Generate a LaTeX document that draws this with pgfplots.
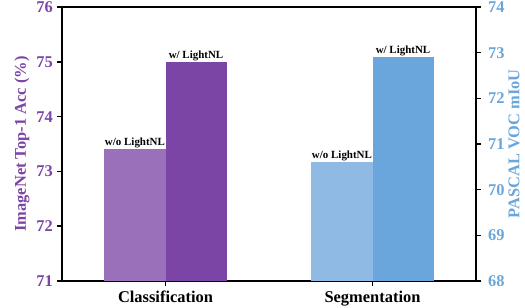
\documentclass[border=0pt]{standalone}
\usepackage{fontspec}
\setmainfont{Liberation Serif}
\usepackage{pgfplots}
\pgfplotsset{compat=1.18}
\usetikzlibrary{calc}
\definecolor{pl}{HTML}{9B70BB}
\definecolor{pd}{HTML}{7B45A6}
\definecolor{bl}{HTML}{8EBAE3}
\definecolor{bd}{HTML}{6AA6DB}
\newcommand{\bigf}{\fontsize{16.5}{18}\selectfont\bfseries}
\newcommand{\smf}{\fontsize{11}{12}\selectfont\bfseries}
\pgfplotsset{
  common/.style={
    scale only axis, width=414bp, height=274bp,
    xmin=-0.5, xmax=1.5,
    tick align=outside, major tick length=5bp,
    axis line style={line width=1.6bp},
    every tick/.style={line width=1.6bp, black},
    /pgf/number format/assume math mode=true,
    ybar, bar width=0.295,
  },
  lab/.style={nodes near coords={#1}, nodes near coords style={font=\smf, text=black, anchor=south, inner sep=1bp}},
}
\begin{document}
\begin{tikzpicture}
\begin{axis}[common,
  ymin=71, ymax=76, ytick={71,...,76},
  xtick={0,1}, xticklabels={Classification,Segmentation},
  ytick pos=left, xtick pos=bottom,
  yticklabel style={font=\bigf, text=pd, anchor=east, inner sep=0pt, xshift=-4bp},
  xticklabel style={font=\bigf, anchor=north, inner sep=0pt, yshift=-4.5bp},
  ylabel={ImageNet Top-1 Acc (\%)},
  ylabel style={font=\bigf, text=pd, at={($(axis description cs:0,0.5)+(-40bp,0)$)}, anchor=center, rotate=0},
]
\addplot[fill=pl, draw=none, bar shift=0pt, lab={w/o LightNL}] coordinates {(-0.1475,73.4)};
\addplot[fill=pd, draw=none, bar shift=0pt, lab={w/ LightNL}] coordinates {(0.1475,75.0)};
\end{axis}
\begin{axis}[common,
  ymin=68, ymax=74, ytick={68,...,74},
  axis x line=none, axis y line*=right,
  yticklabel style={font=\bigf, text=bd, anchor=west, inner sep=0pt, xshift=7bp},
  ylabel={PASCAL VOC mIoU},
  ylabel style={font=\bigf, text=bd, at={($(axis description cs:1,0.5)+(38bp,0)$)}, anchor=center},
]
\addplot[fill=bl, draw=none, bar shift=0pt, lab={w/o LightNL}] coordinates {(0.8525,70.6)};
\addplot[fill=bd, draw=none, bar shift=0pt, lab={w/ LightNL}] coordinates {(1.1475,72.9)};
\end{axis}
\pgfresetboundingbox
\path (-62bp,-27bp) rectangle (463bp,281bp);
\end{tikzpicture}
\end{document}
